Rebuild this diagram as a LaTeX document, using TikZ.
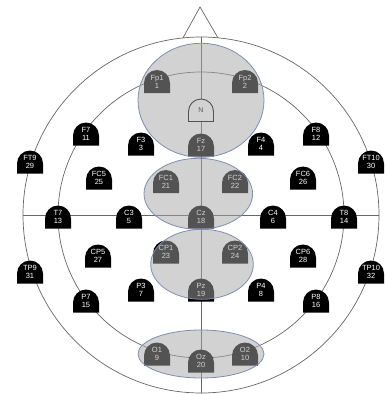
\documentclass[tikz,border=0pt]{standalone}
\usepackage{fontspec}
\setmainfont{Liberation Sans}
\definecolor{edgeblue}{HTML}{7F8DB0}
\tikzset{
  headline/.style={draw=black!60, line width=0.7pt},
  elec/.style={fill=black},
  etext/.style={text=white, font=\fontsize{7.5}{8}\selectfont, align=center, inner sep=0pt},
  ntext/.style={text=black, font=\fontsize{7}{8}\selectfont, inner sep=0pt},
  region/.style={fill=black!35, fill opacity=0.5},
  regionedge/.style={draw=edgeblue, line width=0.8pt}
}
\newcommand\electrode[4]{%
  \fill[elec] (#2-13,#3+11.5) -- ++(0,-10) arc[start angle=180,end angle=0,radius=13pt] -- (#2+13,#3+11.5) -- cycle;
  \node[etext] (#1) at (#2,#3) {#4};
}
\begin{document}
\begin{tikzpicture}[x=1pt,y=-1pt]
\useasboundingbox (0,0) rectangle (384,394);
\coordinate (c) at (201,215);
\coordinate (apex) at (200,7);
\coordinate (nl) at (183,37.9);
\coordinate (nr) at (218,37.9);
\coordinate (top) at (201,37);
\coordinate (bot) at (201,393);
\coordinate (lft) at (23,215);
\coordinate (rgt) at (379,215);
% head
\draw[headline] (c) circle[radius=178];
\draw[headline] (c) circle[radius=143];
\draw[headline] (nl) -- (apex) -- (nr);
\draw[headline] (top) -- (bot);
\draw[headline] (lft) -- (rgt);
% electrodes
\electrode{Fp1}{157}{81.5}{Fp1\\1}
\electrode{Fp2}{245}{81.5}{Fp2\\2}
\electrode{F7}{86}{134}{F7\\11}
\electrode{F3}{141}{144}{F3\\3}
\electrode{Fz}{201}{145}{Fz\\17}
\electrode{F4}{261}{144}{F4\\4}
\electrode{F8}{316}{134}{F8\\12}
\electrode{FT9}{30}{162}{FT9\\29}
\electrode{FT10}{371}{162}{FT10\\30}
\electrode{FC5}{99}{178}{FC5\\25}
\electrode{FC1}{166}{181.5}{FC1\\21}
\electrode{FC2}{235}{181.5}{FC2\\22}
\electrode{FC6}{303}{178}{FC6\\26}
\electrode{T7}{58}{217}{T7\\13}
\electrode{C3}{129}{217}{C3\\5}
\electrode{Cz}{201}{217}{Cz\\18}
\electrode{C4}{273}{217}{C4\\6}
\electrode{T8}{344}{217}{T8\\14}
\electrode{CP5}{98}{256}{CP5\\27}
\electrode{CP1}{166}{252}{CP1\\23}
\electrode{CP2}{235}{252}{CP2\\24}
\electrode{CP6}{303}{256}{CP6\\28}
\electrode{TP9}{30}{272}{TP9\\31}
\electrode{TP10}{371}{272}{TP10\\32}
\electrode{P3}{141}{290}{P3\\7}
\electrode{Pz}{201}{290}{Pz\\19}
\electrode{P4}{261}{290}{P4\\8}
\electrode{P7}{86}{301}{P7\\15}
\electrode{P8}{316}{301}{P8\\16}
\electrode{O1}{157}{354}{O1\\9}
\electrode{Oz}{201}{361}{Oz\\20}
\electrode{O2}{245}{354}{O2\\10}
% reference electrode N
\filldraw[fill=white, draw=black, line width=0.9pt] (201-12.5,110+11.5) -- ++(0,-10) arc[start angle=180,end angle=0,radius=12.5pt] -- (201+12.5,110+11.5) -- cycle;
\node[ntext] (N) at (201,110) {N};
% regions
\fill[region] (201,100.3) ellipse[x radius=63, y radius=57];
\fill[region] (198.3,193.8) ellipse[x radius=54.3, y radius=35.5];
\fill[region] (202,264.3) ellipse[x radius=51.3, y radius=35];
\fill[region] (201,354) ellipse[x radius=63, y radius=24];
\draw[regionedge] (201,100.3) ellipse[x radius=63, y radius=57];
\draw[regionedge] (198.3,193.8) ellipse[x radius=54.3, y radius=35.5];
\draw[regionedge] (202,264.3) ellipse[x radius=51.3, y radius=35];
\draw[regionedge] (201,354) ellipse[x radius=63, y radius=24];
\end{tikzpicture}
\end{document}
